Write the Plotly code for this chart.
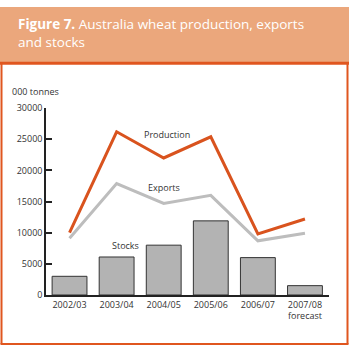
import plotly.graph_objects as go

# Australian wheat balance, thousand tonnes
seasons = ["2002/03", "2003/04", "2004/05", "2005/06", "2006/07", "2007/08"]
season_labels = ["2002/03", "2003/04", "2004/05", "2005/06", "2006/07", "2007/08<br>forecast"]
production = [10000, 26200, 22000, 25400, 9800, 12200]
exports = [9100, 17900, 14700, 16000, 8700, 9900]
stocks = [3000, 6100, 8000, 11900, 6000, 1500]
y_ticks = [0, 5000, 10000, 15000, 20000, 25000, 30000]

W, H = 350, 353
ORANGE = "#E0561F"
HEADER = "#EBA77C"
TEXT = "#333333"
FONT = "Open Sans"


def px(x):
    return x / W


def py(y):
    return (H - y) / H


fig = go.Figure()

fig.add_trace(go.Bar(
    x=seasons, y=stocks,
    marker=dict(color="#B3B3B3", line=dict(color="#333333", width=1)),
    showlegend=False,
))
fig.add_trace(go.Scatter(
    x=seasons, y=exports, mode="lines",
    line=dict(color="#BDBDBD", width=3),
    showlegend=False,
))
fig.add_trace(go.Scatter(
    x=seasons, y=production, mode="lines",
    line=dict(color="#D9531E", width=3),
    showlegend=False,
))

shapes = [
    # header band
    dict(type="rect", xref="paper", yref="paper", x0=0, x1=px(349), y0=py(57), y1=py(0),
         fillcolor=HEADER, line=dict(width=0), layer="below"),
    dict(type="line", xref="paper", yref="paper", x0=0, x1=px(349), y0=py(58.5), y1=py(58.5),
         line=dict(color=ORANGE, width=3)),
    # frame
    dict(type="line", xref="paper", yref="paper", x0=px(1.5), x1=px(1.5), y0=py(58), y1=py(350),
         line=dict(color=ORANGE, width=2)),
    dict(type="line", xref="paper", yref="paper", x0=px(347.5), x1=px(347.5), y0=py(58), y1=py(350),
         line=dict(color=ORANGE, width=2)),
    dict(type="line", xref="paper", yref="paper", x0=px(0.5), x1=px(348.5), y0=py(350), y1=py(350),
         line=dict(color=ORANGE, width=2)),
]

annotations = [
    dict(xref="paper", yref="paper", x=px(16), y=py(27), xanchor="left", yanchor="middle",
         text="<b>Figure 7.</b> Australia wheat production, exports<br>and stocks",
         align="left", showarrow=False,
         font=dict(family=FONT, size=13.5, color="white")),
    dict(xref="paper", yref="paper", x=px(10), y=py(88), xanchor="left", yanchor="middle",
         text="000 tonnes", showarrow=False,
         font=dict(family=FONT, size=9, color=TEXT)),
    dict(xref="x", yref="y", x=2.07, y=25700, text="Production", showarrow=False,
         font=dict(family=FONT, size=9, color=TEXT)),
    dict(xref="x", yref="y", x=2.0, y=17300, text="Exports", showarrow=False,
         font=dict(family=FONT, size=9, color=TEXT)),
    dict(xref="x", yref="y", x=1.18, y=7900, text="Stocks", showarrow=False,
         font=dict(family=FONT, size=9, color=TEXT)),
]

fig.update_layout(
    width=W, height=H,
    margin=dict(l=0, r=0, t=0, b=0),
    paper_bgcolor="white", plot_bgcolor="white",
    bargap=0.26,
    shapes=shapes,
    annotations=annotations,
    xaxis=dict(
        domain=[px(46), px(328.5)],
        tickmode="array", tickvals=seasons, ticktext=season_labels,
        showline=True, linecolor="#222222", linewidth=1.5,
        ticks="", showgrid=False, zeroline=False,
        tickfont=dict(family=FONT, size=9, color=TEXT),
        fixedrange=True,
    ),
    yaxis=dict(
        domain=[py(299), py(105)],
        range=[0, 30000],
        tickmode="array", tickvals=y_ticks, ticktext=[str(v) for v in y_ticks],
        showline=True, linecolor="#222222", linewidth=1.5,
        ticks="inside", ticklen=6, tickwidth=1.5, tickcolor="#222222",
        showgrid=False, zeroline=False,
        tickfont=dict(family=FONT, size=9, color=TEXT),
        fixedrange=True,
    ),
)

fig.write_html("out.html")
